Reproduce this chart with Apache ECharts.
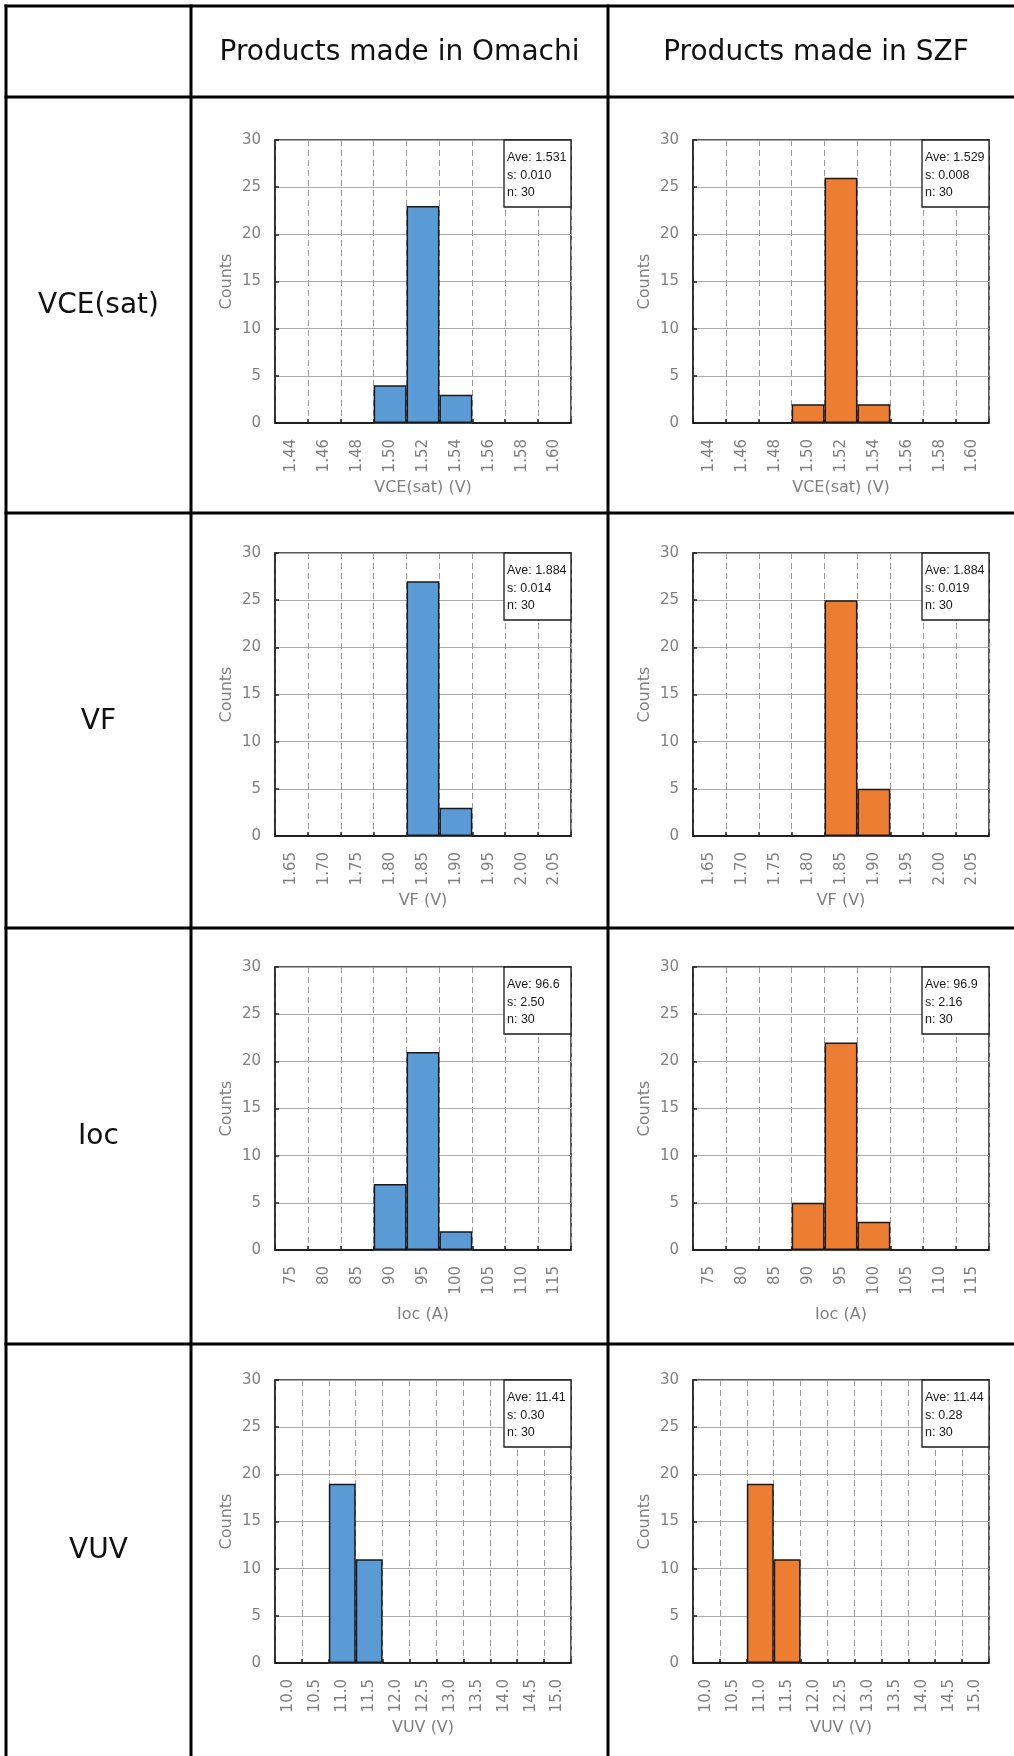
<!DOCTYPE html>
<html>
<head>
<meta charset="utf-8">
<script src="https://cdn.jsdelivr.net/npm/echarts@6/dist/echarts.min.js"></script>
<style>
  html, body { margin: 0; padding: 0; background: #fff; }
  #chart { width: 1014px; height: 1756px; }
</style>
</head>
<body>
<div id="chart"></div>
<script>
// ---------------- data ----------------
const columnHeaders = ['Products made in Omachi', 'Products made in SZF'];
const rowNames = ['VCE(sat)', 'VF', 'Ioc', 'VUV'];
const xAxisTitles = ['VCE(sat) (V)', 'VF (V)', 'Ioc (A)', 'VUV (V)'];
const yAxisTitle = 'Counts';

const vceBins = ['1.44', '1.46', '1.48', '1.50', '1.52', '1.54', '1.56', '1.58', '1.60'];
const vceOmachi = [0, 0, 0, 4, 23, 3, 0, 0, 0];
const vceSZF = [0, 0, 0, 2, 26, 2, 0, 0, 0];

const vfBins = ['1.65', '1.70', '1.75', '1.80', '1.85', '1.90', '1.95', '2.00', '2.05'];
const vfOmachi = [0, 0, 0, 0, 27, 3, 0, 0, 0];
const vfSZF = [0, 0, 0, 0, 25, 5, 0, 0, 0];

const iocBins = ['75', '80', '85', '90', '95', '100', '105', '110', '115'];
const iocOmachi = [0, 0, 0, 7, 21, 2, 0, 0, 0];
const iocSZF = [0, 0, 0, 5, 22, 3, 0, 0, 0];

const vuvBins = ['10.0', '10.5', '11.0', '11.5', '12.0', '12.5', '13.0', '13.5', '14.0', '14.5', '15.0'];
const vuvOmachi = [0, 0, 19, 11, 0, 0, 0, 0, 0, 0, 0];
const vuvSZF = [0, 0, 19, 11, 0, 0, 0, 0, 0, 0, 0];

const countMin = 0;
const countMax = 30;
const countStep = 5;

const statsOmachi = [
  ['Ave: 1.531', 's: 0.010', 'n: 30'],
  ['Ave: 1.884', 's: 0.014', 'n: 30'],
  ['Ave: 96.6', 's: 2.50', 'n: 30'],
  ['Ave: 11.41', 's: 0.30', 'n: 30']
];
const statsSZF = [
  ['Ave: 1.529', 's: 0.008', 'n: 30'],
  ['Ave: 1.884', 's: 0.019', 'n: 30'],
  ['Ave: 96.9', 's: 2.16', 'n: 30'],
  ['Ave: 11.44', 's: 0.28', 'n: 30']
];

// ---------------- layout / style ----------------
const binsByRow = [vceBins, vfBins, iocBins, vuvBins];
const valuesByRow = [[vceOmachi, vceSZF], [vfOmachi, vfSZF], [iocOmachi, iocSZF], [vuvOmachi, vuvSZF]];
const statsByRow = [[statsOmachi[0], statsSZF[0]], [statsOmachi[1], statsSZF[1]], [statsOmachi[2], statsSZF[2]], [statsOmachi[3], statsSZF[3]]];

const barColors = ['#5B9BD5', '#ED7D31'];
const cols = [
  { left: 275, width: 296 },
  { left: 693, width: 296 }
];
const plotTops = [140, 553, 967, 1380];
const plotH = 283;

const tableLineV = [6, 191, 608];
const tableLineH = [6, 97, 513, 928, 1344];
const headerCenters = [399.5, 816];
const W = 1014, H = 1756;

const gray = '#808080';
const font = 'DejaVu Sans';

const grids = [], xAxes = [], yAxes = [], series = [], graphics = [];
let gi = 0;
for (let r = 0; r < 4; r++) {
  for (let c = 0; c < 2; c++) {
    const col = cols[c];
    grids.push({
      left: col.left, top: plotTops[r], width: col.width, height: plotH,
      show: true, borderColor: '#222', borderWidth: 1.5, backgroundColor: '#fff'
    });
    xAxes.push({
      type: 'category', gridIndex: gi, data: binsByRow[r],
      name: xAxisTitles[r], nameLocation: 'middle', nameGap: 57,
      nameTextStyle: { color: gray, fontSize: 16, fontFamily: font },
      axisLine: { show: true, lineStyle: { color: '#222', width: 1.5 } },
      axisTick: { show: true, inside: true, length: 4, interval: 0, lineStyle: { color: '#222', width: 1.5 } },
      axisLabel: { rotate: 90, interval: 0, margin: 16, color: gray, fontSize: 15, fontFamily: font },
      splitLine: { show: true, interval: 0, lineStyle: { color: '#9a9a9a', width: 1, type: [6, 4] } }
    });
    yAxes.push({
      type: 'value', gridIndex: gi, min: countMin, max: countMax, interval: countStep,
      name: yAxisTitle, nameLocation: 'middle', nameGap: 40, nameRotate: 90,
      nameTextStyle: { color: gray, fontSize: 16, fontFamily: font },
      axisLine: { show: true, lineStyle: { color: '#222', width: 1.5 } },
      axisTick: { show: true, inside: true, length: 4, lineStyle: { color: '#222', width: 1.5 } },
      axisLabel: { margin: 14, color: gray, fontSize: 15, fontFamily: font },
      splitLine: { show: true, lineStyle: { color: '#ababab', width: 1.2 } }
    });
    series.push({
      type: 'bar', xAxisIndex: gi, yAxisIndex: gi, data: valuesByRow[r][c],
      barCategoryGap: '0%', barGap: '0%',
      itemStyle: { color: barColors[c], borderColor: '#1a1a1a', borderWidth: 1.5 },
      z: 3
    });
    // stat box
    const bw = 67;
    graphics.push({
      type: 'group', x: col.left + col.width - bw, y: plotTops[r], z: 50,
      children: [
        { type: 'rect', z: 50, shape: { x: 0, y: 0, width: bw, height: 67 },
          style: { fill: '#fff', stroke: '#1a1a1a', lineWidth: 1.3 } },
        { type: 'text', z: 51, x: 3, y: 9,
          style: { text: statsByRow[r][c].join('\n'), fontSize: 12.5, fontFamily: 'Liberation Sans',
                   lineHeight: 17.5, fill: '#1a1a1a', textAlign: 'left', textVerticalAlign: 'top',
                   align: 'left', verticalAlign: 'top' } }
      ]
    });
    gi++;
  }
}

// table lines
tableLineV.forEach(x => graphics.push({
  type: 'line', z: 100, shape: { x1: x, y1: tableLineH[0] - 1.5, x2: x, y2: H }, style: { stroke: '#000', lineWidth: 3 }
}));
tableLineH.forEach(y => graphics.push({
  type: 'line', z: 100, shape: { x1: tableLineV[0] - 1.5, y1: y, x2: W, y2: y }, style: { stroke: '#000', lineWidth: 3 }
}));

// headers
for (let c = 0; c < 2; c++) {
  graphics.push({ type: 'text', x: headerCenters[c], y: 53, z: 100,
    style: { text: columnHeaders[c], fontSize: 28, fontFamily: font, fill: '#111',
             textAlign: 'center', textVerticalAlign: 'middle', align: 'center', verticalAlign: 'middle' } });
}

// row labels
for (let r = 0; r < 4; r++) {
  const yc = (tableLineH[r + 1] + (r < 3 ? tableLineH[r + 2] : H)) / 2 + 1;
  graphics.push({ type: 'text', x: (tableLineV[0] + tableLineV[1]) / 2, y: yc, z: 100,
    style: { text: rowNames[r], fontSize: 28, fontFamily: font, fill: '#111',
             textAlign: 'center', textVerticalAlign: 'middle', align: 'center', verticalAlign: 'middle' } });
}

const chart = echarts.init(document.getElementById('chart'), null, { renderer: 'canvas', width: W, height: H });
chart.setOption({
  animation: false,
  backgroundColor: '#fff',
  grid: grids,
  xAxis: xAxes,
  yAxis: yAxes,
  series: series,
  graphic: { elements: graphics }
});
</script>
</body>
</html>
